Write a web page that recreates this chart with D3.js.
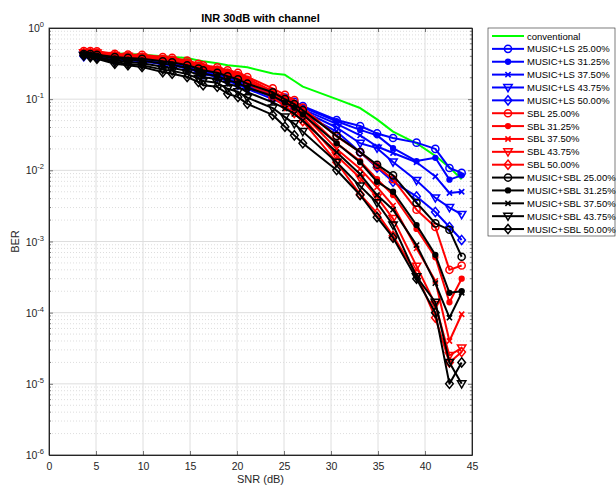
<!DOCTYPE html>
<html>
<head>
<meta charset="utf-8">
<script src="https://cdn.jsdelivr.net/npm/d3@7"></script>
<style>
  body { margin: 0; background: #fff; }
  svg { font-family: "Liberation Sans", Arial, sans-serif; }
</style>
</head>
<body>
<svg id="chart" width="616" height="485"></svg>
<script>
// SNR sample points (dB)
const snr = [3.7, 4.4, 5.1, 7.0, 8.4, 9.9, 12.1, 13.1, 14.7, 15.9, 16.4, 17.9, 19.0, 20.1, 21.1,
  23.8, 25.1, 26.1, 27.0, 30.6, 33.1, 34.9, 36.6, 39.1, 41.1, 42.6, 43.9];

const conventional = [0.45, 0.45, 0.45, 0.44, 0.43, 0.42, 0.40, 0.39, 0.38, 0.35, 0.34, 0.32, 0.30, 0.29, 0.28,
  0.23, 0.22, 0.18, 0.15, 0.10, 0.075, 0.052, 0.035, 0.024, 0.016, 0.011, 0.0075];

const musicLs25 = [0.44, 0.44, 0.43, 0.40, 0.39, 0.38, 0.35, 0.34, 0.31, 0.28, 0.265, 0.245, 0.22, 0.20, 0.175,
  0.125, 0.105, 0.092, 0.08, 0.051, 0.042, 0.033, 0.0285, 0.0245, 0.020, 0.0108, 0.0092];
const musicLs3125 = [0.43, 0.43, 0.42, 0.39, 0.38, 0.37, 0.34, 0.33, 0.30, 0.27, 0.255, 0.235, 0.21, 0.19, 0.165,
  0.118, 0.10, 0.088, 0.077, 0.049, 0.037, 0.031, 0.0205, 0.0135, 0.015, 0.0074, 0.0085];
const musicLs375 = [0.42, 0.42, 0.41, 0.38, 0.37, 0.36, 0.33, 0.32, 0.29, 0.26, 0.245, 0.225, 0.20, 0.18, 0.155,
  0.112, 0.095, 0.083, 0.072, 0.045, 0.031, 0.0216, 0.0175, 0.013, 0.0082, 0.0048, 0.005];
const musicLs4375 = [0.41, 0.41, 0.40, 0.37, 0.36, 0.35, 0.32, 0.31, 0.28, 0.25, 0.235, 0.215, 0.19, 0.17, 0.148,
  0.107, 0.09, 0.078, 0.068, 0.040, 0.024, 0.0205, 0.0131, 0.0072, 0.0041, 0.0030, 0.0024];
const musicLs50 = [0.40, 0.40, 0.39, 0.36, 0.35, 0.34, 0.31, 0.30, 0.27, 0.24, 0.225, 0.205, 0.18, 0.16, 0.14,
  0.10, 0.085, 0.073, 0.063, 0.035, 0.018, 0.011, 0.0069, 0.0043, 0.0026, 0.0016, 0.00105];

const sbl25 = [0.475, 0.475, 0.47, 0.435, 0.425, 0.42, 0.39, 0.38, 0.35, 0.315, 0.30, 0.28, 0.255, 0.235, 0.205,
  0.142, 0.115, 0.097, 0.076, 0.030, 0.018, 0.0113, 0.0075, 0.0028, 0.0016, 0.0004, 0.00046];
const sbl3125 = [0.465, 0.465, 0.46, 0.425, 0.415, 0.41, 0.38, 0.37, 0.34, 0.305, 0.29, 0.27, 0.245, 0.225, 0.195,
  0.13, 0.105, 0.088, 0.068, 0.024, 0.0135, 0.0075, 0.0045, 0.0015, 0.0006, 0.00014, 0.0003];
const sbl375 = [0.455, 0.455, 0.45, 0.415, 0.405, 0.40, 0.37, 0.36, 0.33, 0.295, 0.28, 0.26, 0.235, 0.215, 0.185,
  0.122, 0.097, 0.080, 0.062, 0.020, 0.0105, 0.0058, 0.0032, 0.0008, 0.00028, 0.00004, 0.000095];
const sbl4375 = [0.45, 0.45, 0.445, 0.41, 0.40, 0.39, 0.36, 0.35, 0.32, 0.285, 0.27, 0.25, 0.225, 0.205, 0.175,
  0.115, 0.09, 0.073, 0.056, 0.016, 0.0078, 0.0042, 0.0021, 0.00045, 0.00013, 0.000025, 0.000032];
const sbl50 = [0.44, 0.44, 0.435, 0.40, 0.39, 0.38, 0.35, 0.34, 0.31, 0.275, 0.26, 0.24, 0.215, 0.195, 0.165,
  0.105, 0.08, 0.064, 0.049, 0.013, 0.0046, 0.0025, 0.0012, 0.00035, 0.000085, 0.00002, 0.000028];

const musicSbl25 = [0.43, 0.43, 0.42, 0.39, 0.38, 0.37, 0.34, 0.33, 0.30, 0.27, 0.255, 0.235, 0.21, 0.19, 0.165,
  0.125, 0.10, 0.085, 0.07, 0.0305, 0.018, 0.012, 0.0085, 0.0035, 0.0018, 0.00146, 0.00061];
const musicSbl3125 = [0.42, 0.42, 0.41, 0.375, 0.36, 0.35, 0.315, 0.305, 0.275, 0.245, 0.23, 0.21, 0.185, 0.168, 0.145,
  0.11, 0.09, 0.076, 0.061, 0.024, 0.013, 0.0069, 0.005, 0.0017, 0.00065, 0.00019, 0.0002];
const musicSbl375 = [0.415, 0.41, 0.39, 0.35, 0.335, 0.32, 0.285, 0.275, 0.25, 0.22, 0.205, 0.19, 0.165, 0.15, 0.125,
  0.09, 0.074, 0.062, 0.05, 0.018, 0.0088, 0.0045, 0.0028, 0.00089, 0.00026, 0.000085, 0.00019];
const musicSbl4375 = [0.41, 0.40, 0.38, 0.33, 0.315, 0.30, 0.26, 0.25, 0.225, 0.195, 0.18, 0.17, 0.14, 0.127, 0.105,
  0.075, 0.056, 0.045, 0.035, 0.013, 0.006, 0.0035, 0.0017, 0.00032, 0.00014, 0.00002, 0.00001];
const musicSbl50 = [0.41, 0.39, 0.37, 0.315, 0.30, 0.283, 0.24, 0.228, 0.205, 0.174, 0.157, 0.149, 0.119, 0.107, 0.086,
  0.06, 0.041, 0.031, 0.024, 0.0101, 0.0045, 0.0022, 0.00113, 0.0003, 0.0001, 0.00001, 0.00002];

const xTicks = [0, 5, 10, 15, 20, 25, 30, 35, 40, 45];
const yExponents = [0, -1, -2, -3, -4, -5, -6];

const series = [
  { name: 'conventional', color: '#00ff00', marker: 'none', values: conventional },
  { name: 'MUSIC+LS 25.00%', color: '#0000ff', marker: 'circle', values: musicLs25 },
  { name: 'MUSIC+LS 31.25%', color: '#0000ff', marker: 'dot', values: musicLs3125 },
  { name: 'MUSIC+LS 37.50%', color: '#0000ff', marker: 'x', values: musicLs375 },
  { name: 'MUSIC+LS 43.75%', color: '#0000ff', marker: 'tri', values: musicLs4375 },
  { name: 'MUSIC+LS 50.00%', color: '#0000ff', marker: 'diamond', values: musicLs50 },
  { name: 'SBL 25.00%', color: '#ff0000', marker: 'circle', values: sbl25 },
  { name: 'SBL 31.25%', color: '#ff0000', marker: 'dot', values: sbl3125 },
  { name: 'SBL 37.50%', color: '#ff0000', marker: 'x', values: sbl375 },
  { name: 'SBL 43.75%', color: '#ff0000', marker: 'tri', values: sbl4375 },
  { name: 'SBL 50.00%', color: '#ff0000', marker: 'diamond', values: sbl50 },
  { name: 'MUSIC+SBL 25.00%', color: '#000000', marker: 'circle', values: musicSbl25 },
  { name: 'MUSIC+SBL 31.25%', color: '#000000', marker: 'dot', values: musicSbl3125 },
  { name: 'MUSIC+SBL 37.50%', color: '#000000', marker: 'x', values: musicSbl375 },
  { name: 'MUSIC+SBL 43.75%', color: '#000000', marker: 'tri', values: musicSbl4375 },
  { name: 'MUSIC+SBL 50.00%', color: '#000000', marker: 'diamond', values: musicSbl50 }
];

const margin = { top: 28, right: 144, bottom: 30, left: 49 };
const width = 616 - margin.left - margin.right;
const height = 485 - margin.top - margin.bottom;
const axisColor = '#262626';

const svg = d3.select('#chart');
const g = svg.append('g').attr('transform', 'translate(' + margin.left + ',' + margin.top + ')');

const x = d3.scaleLinear().domain([0, 45]).range([0, width]);
const y = d3.scaleLog().domain([1e-6, 1]).range([height, 0]);

// grid
const minorVals = [];
yExponents.slice(0, -1).forEach(e => {
  for (let k = 2; k <= 9; k++) minorVals.push(k * Math.pow(10, e - 1));
});
const decades = yExponents.map(e => Math.pow(10, e));

g.append('g').selectAll('line').data(minorVals).enter().append('line')
  .attr('x1', 0).attr('x2', width)
  .attr('y1', d => y(d)).attr('y2', d => y(d))
  .attr('stroke', '#cfcfcf').attr('stroke-width', 0.7).attr('stroke-dasharray', '1,2');
g.append('g').selectAll('line').data(decades.slice(1, -1)).enter().append('line')
  .attr('x1', 0).attr('x2', width)
  .attr('y1', d => y(d)).attr('y2', d => y(d))
  .attr('stroke', '#dedede').attr('stroke-width', 1);
g.append('g').selectAll('line').data(xTicks.slice(1, -1)).enter().append('line')
  .attr('x1', d => x(d)).attr('x2', d => x(d))
  .attr('y1', 0).attr('y2', height)
  .attr('stroke', '#dedede').attr('stroke-width', 1);

// markers
function markerPath(type) {
  switch (type) {
    case 'circle': return d3.symbol().type(d3.symbolCircle).size(40)();
    case 'dot': return d3.symbol().type(d3.symbolCircle).size(18)();
    case 'x': return 'M-2.6,-2.6L2.6,2.6M-2.6,2.6L2.6,-2.6';
    case 'tri': return 'M-4.2,-3L4.2,-3L0,4.2Z';
    case 'diamond': return 'M0,-4.6L3.8,0L0,4.6L-3.8,0Z';
  }
  return null;
}

function drawMarker(sel, s) {
  const p = markerPath(s.marker);
  if (!p) return;
  sel.append('path')
    .attr('d', p)
    .attr('fill', s.marker === 'dot' ? s.color : 'none')
    .attr('stroke', s.color)
    .attr('stroke-width', s.marker === 'x' ? 1.6 : 1.5);
}

const line = d3.line().x((d, i) => x(snr[i])).y(d => y(d));

const plot = g.append('g');
series.forEach(s => {
  const sg = plot.append('g').attr('class', 'series');
  sg.append('path')
    .datum(s.values)
    .attr('d', line)
    .attr('fill', 'none')
    .attr('stroke', s.color)
    .attr('stroke-width', 2)
    .attr('stroke-linejoin', 'round');
  if (s.marker !== 'none') {
    sg.selectAll('g.m').data(s.values).enter().append('g')
      .attr('class', 'm')
      .attr('transform', (d, i) => 'translate(' + x(snr[i]) + ',' + y(d) + ')')
      .each(function () { drawMarker(d3.select(this), s); });
  }
});

// axes
const xAxis = g.append('g')
  .attr('transform', 'translate(0,' + height + ')')
  .call(d3.axisBottom(x).tickValues(xTicks).tickSizeInner(-4).tickSizeOuter(0).tickPadding(8));
g.append('g')
  .call(d3.axisTop(x).tickValues(xTicks).tickSizeInner(-4).tickSizeOuter(0).tickFormat(''));

g.append('g')
  .call(d3.axisLeft(y).tickValues(decades).tickSizeInner(-4).tickSizeOuter(0).tickFormat(''));
g.append('g').attr('transform', 'translate(' + width + ',0)')
  .call(d3.axisRight(y).tickValues(decades).tickSizeInner(-4).tickSizeOuter(0).tickFormat(''));

// minor y ticks
[0, width].forEach(px => {
  g.append('g').selectAll('line').data(minorVals).enter().append('line')
    .attr('x1', px).attr('x2', px === 0 ? 2 : width - 2)
    .attr('y1', d => y(d)).attr('y2', d => y(d))
    .attr('stroke', axisColor).attr('stroke-width', 0.6);
});

g.selectAll('.domain').attr('stroke', axisColor);
g.selectAll('.tick line').attr('stroke', axisColor).attr('stroke-width', 0.6);
xAxis.selectAll('text').attr('fill', axisColor).attr('font-size', '10.5px')
  .attr('font-family', '"Liberation Sans", Arial, sans-serif');

g.append('rect').attr('width', width).attr('height', height)
  .attr('fill', 'none').attr('stroke', axisColor).attr('stroke-width', 0.8);

// y tick labels as 10^n
yExponents.forEach(e => {
  const t = g.append('text')
    .attr('x', -5)
    .attr('y', y(Math.pow(10, e)) + 4)
    .attr('text-anchor', 'end')
    .attr('fill', axisColor)
    .attr('font-size', '10.5px');
  t.append('tspan').text('10');
  t.append('tspan').attr('dy', -5).attr('font-size', '7.5px').text(String(e));
});

// title and labels
svg.append('text')
  .attr('x', margin.left + width / 2).attr('y', 22)
  .attr('text-anchor', 'middle')
  .attr('font-size', '11px').attr('font-weight', 'bold').attr('fill', '#000')
  .text('INR 30dB with channel');

svg.append('text')
  .attr('x', margin.left + width / 2).attr('y', 483)
  .attr('text-anchor', 'middle')
  .attr('font-size', '11px').attr('fill', axisColor)
  .text('SNR (dB)');

svg.append('text')
  .attr('transform', 'translate(19,' + (margin.top + height / 2) + ') rotate(-90)')
  .attr('text-anchor', 'middle')
  .attr('font-size', '11px').attr('fill', axisColor)
  .text('BER');

// legend
const legend = svg.append('g').attr('transform', 'translate(488,28)');
legend.append('rect')
  .attr('width', 127).attr('height', 208)
  .attr('fill', '#fff').attr('stroke', axisColor).attr('stroke-width', 0.6);

const rowH = 12.87;
series.forEach((s, i) => {
  const row = legend.append('g').attr('transform', 'translate(0,' + (8 + i * rowH) + ')');
  row.append('line')
    .attr('x1', 4).attr('x2', 36)
    .attr('stroke', s.color).attr('stroke-width', 2);
  const mg = row.append('g').attr('transform', 'translate(20,0)');
  drawMarker(mg, s);
  row.append('text')
    .attr('x', 39).attr('y', 3.5)
    .attr('font-size', '9.5px').attr('fill', '#000')
    .text(s.name);
});
</script>
</body>
</html>
